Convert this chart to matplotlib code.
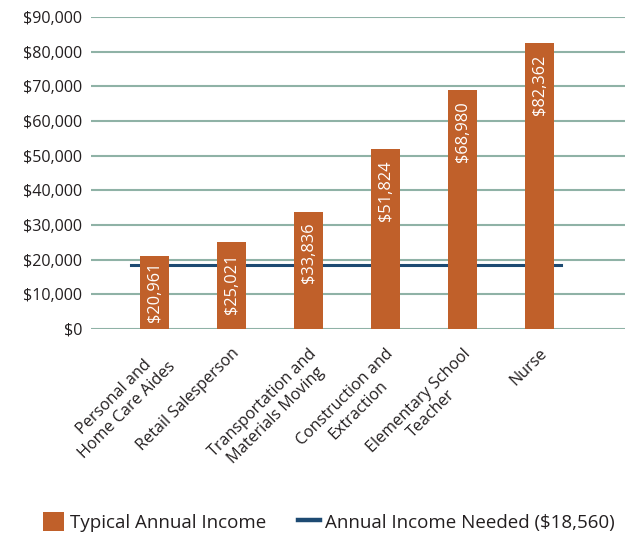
import matplotlib
matplotlib.use("Agg")
import matplotlib.pyplot as plt
from matplotlib.patches import Patch
from matplotlib.lines import Line2D
from matplotlib.ticker import FuncFormatter, MultipleLocator

plt.rcParams['font.family'] = ['Open Sans', 'DejaVu Sans']

categories = ["Personal and\nHome Care Aides", "Retail Salesperson",
              "Transportation and\nMaterials Moving", "Construction and\nExtraction",
              "Elementary School\nTeacher", "Nurse"]
income = [20961, 25021, 33836, 51824, 68980, 82362]
needed = 18560

bar_color = "#c0602a"
line_color = "#1d4a72"
grid_color = "#8fb2a6"
text_color = "#231f20"

fig = plt.figure(figsize=(6.27, 5.36), dpi=100)
ax = fig.add_axes([91/627, 1 - 329/536, (625-91)/627, (329-17)/536])

x = list(range(len(categories)))
ax.bar(x, income, width=0.38, color=bar_color, zorder=3)
ax.plot([-0.3, len(categories) - 1 + 0.28], [needed, needed], color=line_color, lw=2.2, zorder=2)

for xi, v in zip(x, income):
    if v < 23000:
        # short bar: label sits from the base upward so it stays inside
        ax.annotate(f"${v:,}", (xi, 0), xytext=(0, 5), textcoords="offset points",
                    rotation=90, ha="center", va="bottom", color="white", fontsize=11.8, zorder=4)
    else:
        ax.annotate(f"${v:,}", (xi, v), xytext=(0, -8), textcoords="offset points",
                    rotation=90, ha="center", va="top", color="white", fontsize=11.8, zorder=4)

ax.set_xlim(-0.825, 6.11)
ax.set_ylim(0, 90000)
ax.yaxis.set_major_locator(MultipleLocator(10000))
ax.yaxis.set_major_formatter(FuncFormatter(lambda v, p: f"${int(v):,}"))
ax.grid(axis="y", color=grid_color, lw=1.5, zorder=0)
for s in ax.spines.values():
    s.set_visible(False)
ax.tick_params(axis="both", length=0, labelsize=11.6, colors=text_color)
ax.tick_params(axis="y", pad=6.5)
ax.tick_params(axis="x", pad=12)
ax.set_xticks(x)
ax.set_xticklabels(categories, rotation=45, ha="right", rotation_mode="anchor",
                   multialignment="center", va="top")
ax.set_axisbelow(True)

handles = [Patch(facecolor=bar_color, label="Typical Annual Income"),
           Line2D([0], [0], color=line_color, lw=3.2, label="Annual Income Needed ($18,560)")]
fig.legend(handles=handles, loc="center", bbox_to_anchor=(329/627, 1 - 522/536), ncol=2,
           frameon=False, fontsize=13.5, handlelength=1.15, handleheight=1.15, columnspacing=1.7,
           handletextpad=0.3, labelcolor=text_color, borderpad=0, borderaxespad=0)

fig.savefig("out.png", dpi=100)
